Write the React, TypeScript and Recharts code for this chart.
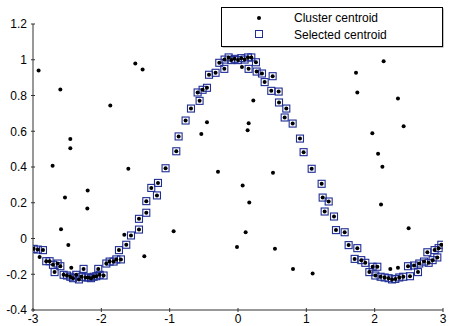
import { ScatterChart, Scatter, XAxis, YAxis, Legend } from 'recharts'

// points picked as selected centroids (blue squares)
const selX = [
  -2.99, -2.93, -2.854, -2.806, -2.757, -2.708, -2.684, -2.64, -2.6, -2.552, -2.503, -2.454, -2.415, -2.367,
  -2.328, -2.289, -2.26, -2.23, -2.19, -2.151, -2.113, -2.074, -2.045, -2.025, -1.967, -1.927, -1.879, -1.82,
  -1.781, -1.742, -1.713, -1.635, -1.566, -1.449, -1.449, -1.342, -1.342, -1.269, -1.186, -1.171, -1.06, -0.903,
  -0.869, -0.767, -0.688, -0.591, -0.562, -0.518, -0.454, -0.424, -0.328, -0.274, -0.2, -0.196, -0.137, -0.098,
  -0.05, 0, 0.048, 0.097, 0.146, 0.195, 0.155, 0.263, 0.273, 0.351, 0.39, 0.487, 0.507, 0.595, 0.6, 0.683, 0.707,
  0.8, 0.907, 0.96, 1.078, 1.224, 1.239, 1.268, 1.327, 1.405, 1.434, 1.561, 1.619, 1.707, 1.746, 1.804, 1.863,
  1.922, 1.97, 2.01, 2.039, 2.087, 2.146, 2.204, 2.254, 2.302, 2.36, 2.419, 2.488, 2.517, 2.576, 2.634, 2.653,
  2.722, 2.771, 2.79, 2.848, 2.877, 2.917, 2.936, 2.975,
]
const selY = [
  -0.058, -0.062, -0.065, -0.127, -0.127, -0.147, -0.188, -0.14, -0.155, -0.203, -0.207, -0.214, -0.222, -0.203,
  -0.229, -0.214, -0.17, -0.218, -0.218, -0.222, -0.214, -0.211, -0.17, -0.203, -0.207, -0.14, -0.129, -0.129,
  -0.117, -0.065, -0.117, -0.035, 0.017, 0.05, 0.11, 0.144, 0.209, 0.283, 0.241, 0.311, 0.393, 0.488,
  0.571, 0.66, 0.727, 0.817, 0.77, 0.832, 0.843, 0.916, 0.927, 0.983, 0.949, 1.001, 1.013, 0.998,
  1.005, 0.998, 1.009, 1.001, 1.013, 1.013, 0.949, 0.986, 0.934, 0.923, 0.875, 0.826, 0.908, 0.822, 0.761, 0.677, 0.727,
  0.643, 0.559, 0.483, 0.39, 0.306, 0.229, 0.151, 0.207, 0.123, 0.047, 0.035, -0.037, -0.114, -0.054, -0.121, -0.136,
  -0.188, -0.158, -0.207, -0.158, -0.214, -0.218, -0.222, -0.229, -0.226, -0.218, -0.214, -0.155, -0.211, -0.151, -0.188, -0.14,
  -0.129, -0.077, -0.136, -0.121, -0.065, -0.106, -0.054, -0.035,
]

// cluster centroids that were not selected (black dots only)
const otherX = [
  -2.918, -2.903, -2.713, -2.6, -2.59, -2.532, -2.483, -2.454, -2.454, -2.44, -2.205, -2.2, -1.869, -1.664,
  -1.605, -1.503, -1.396, -1.371, -0.942, -0.537, -0.454, -0.293, -0.015, 0.058, 0.068, 0.112, 0.141, 0.156,
  0.165, 0.224, 0.512, 0.541, 0.805, 1.092, 1.727, 1.746, 1.966, 2.05, 2.093, 2.113, 2.131, 2.229, 2.341, 2.341,
  2.424, 2.497,
]
const otherY = [
  0.94, -0.103, 0.407, 0.834, 0.052, 0.229, -0.037, 0.556, 0.505, -0.164, 0.168, 0.269, 0.744, 0.021,
  0.39, 0.979, 0.945, -0.099, 0.041, 0.584, 0.651, 0.373, -0.047, 0.96, 0.297, 0.035, 0.606, 0.645,
  0.201, 0.772, 0.368, -0.058, -0.17, -0.196, 0.927, 0.817, 0.589, 0.474, 0.19, 0.401, 0.992, -0.17, -0.164, 0.783,
  0.628, 0.058,
]

const xTicks = [-3, -2, -1, 0, 1, 2, 3]
const yTicks = [-0.4, -0.2, 0, 0.2, 0.4, 0.6, 0.8, 1, 1.2]

const selected = selX.map((x, i) => ({ x, y: selY[i] }))
const clusters = [...selected, ...otherX.map((x, i) => ({ x, y: otherY[i] }))]

const FONT = '"Liberation Sans", Arial, Helvetica, sans-serif'
const AXIS = '#333'
const BLUE = '#1f2d96'

const Dot = (p: any) => <circle cx={p.cx} cy={p.cy} r={2} fill="#000" />
const Square = (p: any) => (
  <rect x={p.cx - 3.5} y={p.cy - 3.5} width={7} height={7} fill="none" stroke={BLUE} strokeWidth={1.1} />
)

const XTick = (p: any) => (
  <g>
    <line x1={p.x} y1={p.y} x2={p.x} y2={p.y - 4} stroke={AXIS} />
    <text x={p.x} y={p.y + 11} textAnchor="middle" fontSize={12} fontFamily={FONT} fill="#000">
      {p.payload.value}
    </text>
  </g>
)

const YTick = (p: any) => (
  <g>
    <line x1={p.x} y1={p.y} x2={p.x + 4} y2={p.y} stroke={AXIS} />
    <text x={p.x - 4} y={p.y + 4.3} textAnchor="end" fontSize={12} fontFamily={FONT} fill="#000">
      {p.payload.value}
    </text>
  </g>
)

const LegendBox = () => (
  <svg width={224} height={42} style={{ display: 'block' }}>
    <rect x={1.5} y={1.5} width={221} height={39} fill="#888" />
    <rect x={0.5} y={0.5} width={221} height={39} fill="#fff" stroke="#000" />
    <circle cx={38} cy={11} r={2} fill="#000" />
    <text x={73} y={15.3} fontSize={12} fontFamily={FONT} fill="#000">Cluster centroid</text>
    <rect x={34.5} y={23.5} width={7} height={7} fill="none" stroke={BLUE} />
    <text x={73} y={31.6} fontSize={12} fontFamily={FONT} fill="#000">Selected centroid</text>
  </svg>
)

export default function App() {
  return (
    <div style={{ width: 451, height: 326, background: '#fff' }}>
      <style>{'body{margin:0}'}</style>
      <ScatterChart width={451} height={326} margin={{ top: 24, right: 8, bottom: 0, left: 0 }}>
        <XAxis
          type="number"
          dataKey="x"
          domain={[-3, 3]}
          ticks={xTicks}
          height={16}
          tickSize={0}
          tickLine={false}
          axisLine={{ stroke: AXIS }}
          tick={<XTick />}
          allowDataOverflow
        />
        <YAxis
          type="number"
          dataKey="y"
          domain={[-0.4, 1.2]}
          ticks={yTicks}
          width={33}
          tickSize={0}
          tickLine={false}
          axisLine={{ stroke: AXIS }}
          tick={<YTick />}
          allowDataOverflow
        />
        <Legend
          align="center"
          verticalAlign="middle"
          wrapperStyle={{ left: 221, top: 7, width: 224, height: 42 }}
          content={() => <LegendBox />}
        />
        <Scatter name="Selected centroid" data={selected} shape={<Square />} isAnimationActive={false} />
        <Scatter name="Cluster centroid" data={clusters} shape={<Dot />} isAnimationActive={false} />
      </ScatterChart>
    </div>
  )
}
